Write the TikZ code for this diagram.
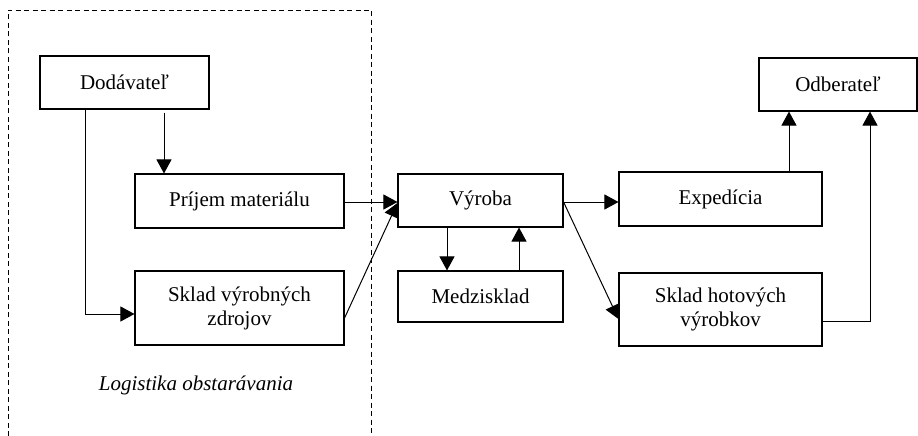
\documentclass[tikz,border=0pt]{standalone}
\usepackage{fontspec}
\setmainfont{Liberation Serif}
\usetikzlibrary{arrows.meta}
\begin{document}
\begin{tikzpicture}[x=1pt,y=-1pt,
  box/.style={draw,line width=1.1pt,inner sep=2pt,align=center,font=\fontsize{21}{24}\selectfont},
  arr/.style={line width=1pt,-{Triangle[length=14pt,width=15pt]}},
  frame/.style={line width=0.9pt,dash pattern=on 5pt off 3.5pt}]
\useasboundingbox (0,0) rectangle (918,436);
\draw[frame] (8,436) -- (8,10) -- (371,10) -- (371,436);
\node[box,minimum width=169pt,minimum height=53pt] (dod) at (124.5,82.5) {Dodávateľ};
\node[box,minimum width=209pt,minimum height=54pt] (prij) at (239.5,201) {Príjem materiálu};
\node[box,minimum width=209pt,minimum height=74pt] (skv) at (239.5,308) {Sklad výrobných\\zdrojov};
\node[box,minimum width=165pt,minimum height=53pt] (vyr) at (480.5,200.5) {Výroba};
\node[box,minimum width=165pt,minimum height=51pt] (med) at (480.5,296.5) {Medzisklad};
\node[box,minimum width=203pt,minimum height=54pt] (exp) at (720.5,199) {Expedícia};
\node[box,minimum width=203pt,minimum height=73pt] (shv) at (720.5,309.5) {Sklad hotových\\výrobkov};
\node[box,minimum width=158pt,minimum height=53pt] (odb) at (838,84.5) {Odberateľ};
\node[font=\fontsize{21}{24}\selectfont\itshape] (log) at (196,385) {Logistika obstarávania};
\draw[arr] ([xshift=39.5pt,yshift=-3pt]dod.south) -- ([xshift=39.5pt]dod.south |- prij.north);
\draw[arr] ([xshift=-39.5pt]dod.south) |- ([yshift=-6pt]skv.west);
\draw[arr] ([yshift=-1pt]prij.east) -- ([yshift=-1.5pt]vyr.west);
\draw[arr] ([yshift=-10pt]skv.east) -- ([yshift=-2.5pt]vyr.west);
\draw[arr] ([xshift=-33.5pt]vyr.south) -- ([xshift=-33.5pt]med.north);
\draw[arr] ([xshift=38.5pt]med.north) -- ([xshift=38.5pt]vyr.south);
\draw[arr] ([yshift=-1.5pt]vyr.east) -- ([yshift=-1.5pt]vyr.east -| exp.west);
\draw[arr] ([yshift=-1.5pt]vyr.east) -- ([yshift=-9.5pt]shv.west);
\draw[arr] ([xshift=68.5pt]exp.north) -- ([xshift=68.5pt]exp.north |- odb.south);
\draw[arr] ([yshift=-11.5pt]shv.east) -| ([xshift=32pt]odb.south);
\end{tikzpicture}
\end{document}
